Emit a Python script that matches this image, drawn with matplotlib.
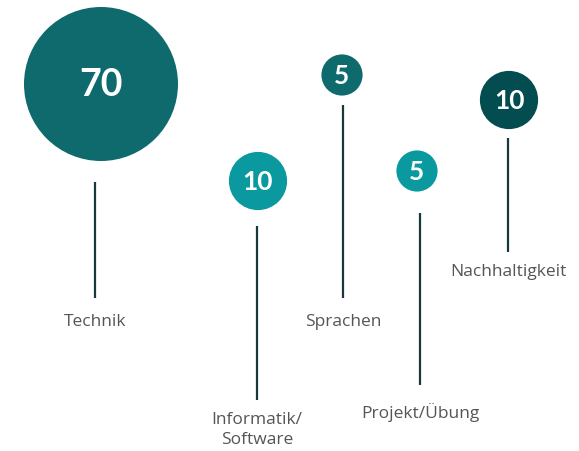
import matplotlib
matplotlib.use("Agg")
import matplotlib.pyplot as plt

categories = ["Technik", "Informatik/\nSoftware", "Sprachen", "Projekt/Übung", "Nachhaltigkeit"]
values = [70, 10, 5, 5, 10]

# layout (pixel positions)
cx = [101, 258, 342, 417, 509]
cy = [84, 181, 75, 171, 100]
line_x = [95, 257, 343, 420, 508]
line_top = [182, 226, 105, 213, 138]
line_bot = [298, 400, 298, 385, 252]
label_y = [322, 430, 322, 413, 272]
colors = ["#0e6a6d", "#0a999f", "#0e6a6d", "#0a999f", "#034c4f"]
num_size = [27, 19, 19, 19, 19]

W, H = 579, 451
fig = plt.figure(figsize=(W / 100, H / 100), dpi=100)
ax = fig.add_axes([0, 0, 1, 1])
ax.set_xlim(0, W)
ax.set_ylim(H, 0)
ax.axis("off")

# area proportional: value 70 -> radius 77 px
px2pt = 72 / 100
k = (2 * 77 * px2pt) ** 2 / 70
ax.scatter(cx, cy, s=[v * k for v in values], c=colors, linewidths=0, zorder=2)

for i, v in enumerate(values):
    ax.text(cx[i], cy[i] + 1, str(v), ha="center", va="center", color="white",
            fontsize=num_size[i], fontweight="bold", family="Lato", zorder=3)
    ax.plot([line_x[i], line_x[i]], [line_top[i], line_bot[i]], color="#17393c",
            lw=1.6, solid_capstyle="butt", zorder=1)
    ax.text(line_x[i], label_y[i], categories[i], ha="center", va="center",
            color="#555555", fontsize=12.5, family="Open Sans", linespacing=1.4)

fig.savefig("out.png", dpi=100)
